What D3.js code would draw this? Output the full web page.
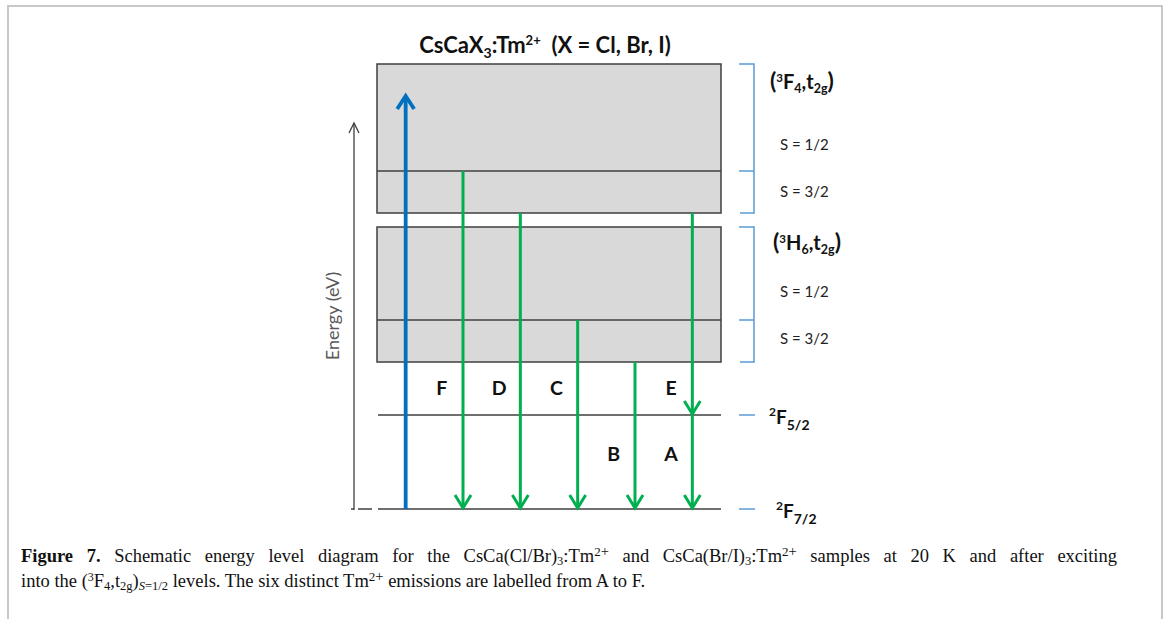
<!DOCTYPE html>
<html>
<head>
<meta charset="utf-8">
<script src="https://cdn.jsdelivr.net/npm/d3@7"></script>
<style>
  html, body { margin:0; padding:0; background:#fff; }
  svg { display:block; }
</style>
</head>
<body>
<svg id="chart" width="1170" height="619"></svg>
<script>
// ---------- data ----------
// energy levels (arbitrary schematic energy units)
const groundLevels = ["F72", "F52"];
const groundNames = [["2","F","7/2"], ["2","F","5/2"]];
const groundEnergy = [0, 94];

// 5d bands: lower edge, S=3/2 / S=1/2 split, upper edge
const bandNames = [["3","H","6"], ["3","F","4"]];
const bandLow = [147, 296];
const bandSplit = [189, 338];
const bandHigh = [282, 445];
const spinLabels = ["S = 1/2", "S = 3/2"];

// transitions
const columns = ["exc", "F", "D", "C", "B", "EA"];
const emLabels = ["F", "D", "C", "B", "E", "A"];
const emColumn = ["F", "D", "C", "B", "EA", "EA"];
const emFrom = [338, 296, 189, 147, 296, 94];
const emTo = [0, 0, 0, 0, 94, 0];
const excFrom = 0, excTo = 414;
const axisTop = 386;

// ---------- drawing ----------
const svg = d3.select("#chart");
const y = d3.scaleLinear().domain([0, 445]).range([509, 64]);
const x = d3.scalePoint().domain(columns).range([377, 721]).padding(0.5);
const step = x.step();
const boxL = 377, boxR = 721;

const dark = "#3f3f3f", green = "#00b050", blue = "#0070c0", bracket = "#5b9bd5";
const sans = "Lato, 'Open Sans', sans-serif";

// frame
svg.append("path").attr("d", "M8,619 V6 H1162 V619")
  .attr("fill", "none").attr("stroke", "#c8c8c8").attr("stroke-width", 2);

// title
const t = svg.append("text").attr("x", 545).attr("y", 53).attr("text-anchor", "middle")
  .attr("font-family", sans).attr("font-weight", "bold").attr("font-size", 22).attr("fill", "#111");
t.append("tspan").text("CsCaX");
t.append("tspan").attr("dy", 5).attr("font-size", 14).text("3");
t.append("tspan").attr("dy", -5).text(":Tm");
t.append("tspan").attr("dy", -8).attr("font-size", 13).text("2+");
t.append("tspan").attr("dy", 8).text("\u00a0 (X = Cl, Br, I)");

// bands
bandLow.forEach((lo, i) => {
  svg.append("rect").attr("x", boxL).attr("width", boxR - boxL)
    .attr("y", y(bandHigh[i])).attr("height", y(lo) - y(bandHigh[i]))
    .attr("fill", "#d9d9d9").attr("stroke", dark).attr("stroke-width", 1.5);
  svg.append("line").attr("x1", boxL).attr("x2", boxR)
    .attr("y1", y(bandSplit[i])).attr("y2", y(bandSplit[i]))
    .attr("stroke", dark).attr("stroke-width", 1.5);
});

// ground levels
groundEnergy.forEach(e => {
  svg.append("line").attr("x1", 378).attr("x2", boxR).attr("y1", y(e)).attr("y2", y(e))
    .attr("stroke", dark).attr("stroke-width", 1.5);
});
svg.append("line").attr("x1", 358).attr("x2", 372).attr("y1", y(0)).attr("y2", y(0))
  .attr("stroke", dark).attr("stroke-width", 1.5);

// energy axis
const ax = 354;
svg.append("line").attr("x1", ax).attr("x2", ax).attr("y1", y(0) + 1).attr("y2", y(axisTop))
  .attr("stroke", dark).attr("stroke-width", 1.3);
svg.append("line").attr("x1", ax - 3).attr("x2", ax).attr("y1", y(0)).attr("y2", y(0))
  .attr("stroke", dark).attr("stroke-width", 1.5);
svg.append("path").attr("d", `M${ax-5},${y(axisTop)+10} L${ax},${y(axisTop)} L${ax+5},${y(axisTop)+10}`)
  .attr("fill", "none").attr("stroke", dark).attr("stroke-width", 1.3);
svg.append("text").attr("transform", `translate(339,${(y(0)+y(axisTop))/2}) rotate(-90)`)
  .attr("text-anchor", "middle").attr("font-family", sans).attr("font-size", 18)
  .attr("fill", "#595959").text("Energy (eV)");

// arrows
function arrow(xp, e1, e2, color, w, hw, hh) {
  const y1 = y(e1), y2 = y(e2);
  const dir = y2 > y1 ? 1 : -1;
  const tip = y2 - dir * 1;
  svg.append("line").attr("x1", xp).attr("x2", xp).attr("y1", y1).attr("y2", tip)
    .attr("stroke", color).attr("stroke-width", w);
  svg.append("path").attr("d", `M${xp-hw},${tip - dir*hh} L${xp},${tip} L${xp+hw},${tip - dir*hh}`)
    .attr("fill", "none").attr("stroke", color).attr("stroke-width", w)
    .attr("stroke-linejoin", "miter").attr("stroke-linecap", "butt");
}
arrow(x("exc"), excFrom, excTo, blue, 3.8, 8.5, 13);
emLabels.forEach((lab, i) => {
  arrow(x(emColumn[i]), emFrom[i], emTo[i], green, 3, 8, 13);
});

// emission labels
emLabels.forEach((lab, i) => {
  const ly = (lab === "A" || lab === "B") ? (y(0) + y(94)) / 2 - 8 : (y(94) + y(147)) / 2 - 1;
  svg.append("text").attr("x", x(emColumn[i]) - step * 0.37).attr("y", ly + 7)
    .attr("text-anchor", "middle").attr("font-family", sans).attr("font-weight", "bold")
    .attr("font-size", 19.5).attr("fill", "#111").text(lab);
});

// brackets
const bx0 = 739, bx1 = 754;
bandLow.forEach((lo, i) => {
  svg.append("path").attr("d", `M${bx0},${y(bandHigh[i])} H${bx1} V${y(lo)} H${bx0+1} M${bx0},${y(bandSplit[i])} H${bx1}`)
    .attr("fill", "none").attr("stroke", bracket).attr("stroke-width", 1.5);
});
groundEnergy.forEach(e => {
  svg.append("line").attr("x1", bx0).attr("x2", bx1 + 1).attr("y1", y(e)).attr("y2", y(e))
    .attr("stroke", bracket).attr("stroke-width", 1.5);
});

// band labels
bandNames.forEach((nm, i) => {
  const tx = svg.append("text").attr("x", i === 0 ? 773 : 770).attr("y", y(bandHigh[i]) + (i === 0 ? 23 : 25))
    .attr("font-family", sans).attr("font-weight", "bold").attr("font-size", 20).attr("fill", "#111");
  tx.append("tspan").attr("font-size", 23).text("(");
  tx.append("tspan").attr("dy", -7).attr("font-size", 11.5).text(nm[0]);
  tx.append("tspan").attr("dy", 7).text(nm[1]);
  tx.append("tspan").attr("dy", 4).attr("font-size", 12.5).text(nm[2]);
  tx.append("tspan").attr("dy", -4).text(",t");
  tx.append("tspan").attr("dy", 4).attr("font-size", 12.5).text("2g");
  tx.append("tspan").attr("dy", -4).attr("font-size", 23).text(")");
  svg.append("text").attr("x", 780).attr("y", y(bandSplit[i]) - (i === 0 ? 28 : 26) + 5)
    .attr("font-family", sans).attr("font-size", 15).attr("fill", "#222").text(spinLabels[0]);
  svg.append("text").attr("x", 780).attr("y", (y(bandSplit[i]) + y(bandLow[i])) / 2 - (i === 0 ? 2 : 0) + 5)
    .attr("font-family", sans).attr("font-size", 15).attr("fill", "#222").text(spinLabels[1]);
});

// ground labels
groundEnergy.forEach((e, i) => {
  const nm = groundNames[i];
  const tx = svg.append("text").attr("x", i === 0 ? 776 : 769).attr("y", y(e) + 9)
    .attr("font-family", sans).attr("font-weight", "bold").attr("font-size", 19).attr("fill", "#111");
  tx.append("tspan").attr("dy", -8).attr("font-size", 12).text(nm[0]);
  tx.append("tspan").attr("dy", 8).text(nm[1]);
  tx.append("tspan").attr("dy", 6).attr("font-size", 14).text(nm[2]);
});

// caption
const serif = "'Liberation Serif', 'DejaVu Serif', serif";
const cfs = 18.5;
const capX = 21;
function tmSup(sel) {
  sel.append("tspan").attr("dy", -6).attr("font-size", 13).text("2");
  sel.append("tspan").attr("font-size", 14.5).text("+");
}
const c1 = svg.append("text").attr("x", capX).attr("y", 562).attr("font-family", serif)
  .attr("font-size", cfs).attr("fill", "#111");
c1.append("tspan").attr("font-weight", "bold").text("Figure 7.");
c1.append("tspan").text(" Schematic energy level diagram for the CsCa(Cl/Br)");
c1.append("tspan").attr("dy", 3).attr("font-size", 12.5).text("3");
c1.append("tspan").attr("dy", -3).text(":Tm");
tmSup(c1);
c1.append("tspan").attr("dy", 6).text(" and CsCa(Br/I)");
c1.append("tspan").attr("dy", 3).attr("font-size", 12.5).text("3");
c1.append("tspan").attr("dy", -3).text(":Tm");
tmSup(c1);
c1.append("tspan").attr("dy", 6).text(" samples at 20 K and after exciting");
// justify first line to the text block width
const natural = c1.node().getComputedTextLength();
const nSpaces = (c1.text().match(/ /g) || []).length;
c1.attr("word-spacing", Math.max(0, (1117 - capX - natural) / nSpaces));

const c2 = svg.append("text").attr("x", capX).attr("y", 587).attr("font-family", serif)
  .attr("font-size", cfs).attr("fill", "#111");
c2.append("tspan").text("into the (");
c2.append("tspan").attr("dy", -6).attr("font-size", 12).text("3");
c2.append("tspan").attr("dy", 6).text("F");
c2.append("tspan").attr("dy", 3).attr("font-size", 12.5).text("4");
c2.append("tspan").attr("dy", -3).text(",t");
c2.append("tspan").attr("dy", 3).attr("font-size", 12.5).text("2g");
c2.append("tspan").attr("dy", -3).text(")");
c2.append("tspan").attr("dy", 3).attr("font-size", 12.5).attr("font-style", "italic").text("S");
c2.append("tspan").attr("font-size", 12.5).text("=1/2");
c2.append("tspan").attr("dy", -3).text(" levels. The six distinct Tm");
tmSup(c2);
c2.append("tspan").attr("dy", 6).text(" emissions are labelled from A to F.");
</script>
</body>
</html>
